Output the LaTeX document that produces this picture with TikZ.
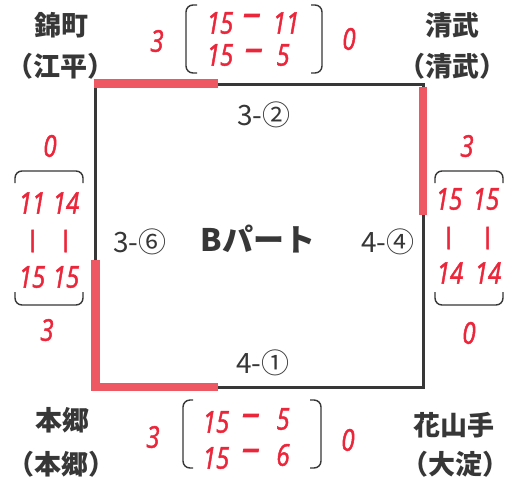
\documentclass[tikz,border=0pt]{standalone}
\usepackage{fontspec}
\usepackage{graphicx}
\newfontfamily\cjk{Noto Sans CJK JP}
\newfontfamily\hand{Open Sans}[FakeStretch=0.8,FakeBold=1.6]
\definecolor{ink}{RGB}{55,55,55}
\definecolor{hred}{RGB}{236,38,58}
\definecolor{bar}{RGB}{238,88,98}
\newcommand{\vdsh}{\scalebox{1.2}[0.75]{|}}
\newcommand{\hdsh}{\scalebox{1.55}[1.3]{–}}
\begin{document}
\begin{tikzpicture}[x=1pt,y=-1pt,
  team/.style={font=\cjk\bfseries\fontsize{27}{27}\selectfont, text=ink, inner sep=0pt},
  title/.style={font=\cjk\bfseries\fontsize{31}{31}\selectfont, text=ink, inner sep=0pt},
  match/.style={font=\cjk\fontsize{28}{28}\selectfont, text=ink, inner sep=0pt},
  score/.style={font=\hand\itshape\fontsize{30}{30}\selectfont, text=hred, inner sep=0pt},
  edgeline/.style={draw=ink, line width=3pt},
  winline/.style={draw=bar, line width=8.5pt, line join=miter},
  brk/.style={draw=ink, line width=1.4pt, rounded corners=7pt}]
\fill[white] (0,0) rectangle (513,483);
\useasboundingbox (0,0) rectangle (513,483);
% square
\coordinate (TL) at (95,84);
\coordinate (TR) at (423,84);
\coordinate (BR) at (423,387);
\coordinate (BL) at (95,387);
\draw[edgeline] (TL) -- (TR) -- (BR) -- (BL) -- cycle;
% winner bars
\coordinate (t1) at (93.5,83.5);
\coordinate (t2) at (218,83.5);
\coordinate (r1) at (423,86.5);
\coordinate (r2) at (423,215);
\coordinate (l1) at (95.5,260);
\coordinate (l2) at (95.5,387);
\coordinate (b2) at (218,387);
\draw[winline] (t1) -- (t2);
\draw[winline] (r1) -- (r2);
\draw[winline] (l1) -- (l2) -- (b2);
% match labels
\node[match] (m2) at (264,115) {3-②};
\node[match] (m6) at (140,242) {3-⑥};
\node[match] (m4) at (388,242) {4-④};
\node[match] (m1) at (263,363) {4-①};
\node[title] (tt) at (258,239) {Bパート};
% teams
\node[team] (n1a) at (61,25) {錦町};
\node[team] (n1b) at (60,66) {（江平）};
\node[team] (n2a) at (452,25) {清武};
\node[team] (n2b) at (452,66) {（清武）};
\node[team] (n3a) at (62,420) {本郷};
\node[team] (n3b) at (61,464) {（本郷）};
\node[team] (n4a) at (454,425) {花山手};
\node[team] (n4b) at (455,464) {（大淀）};
% top score block
\node[score] (ta) at (157,41) {3};
\draw[brk] (197,5) -- (186,5) -- (186,73) -- (197,73);
\node[score] (t11) at (220,23) {15};
\node[score] (t12) at (252,20) {\hdsh};
\node[score] (t13) at (286,23) {11};
\node[score] (t21) at (220,55) {15};
\node[score] (t22) at (254,55) {\hdsh};
\node[score] (t23) at (283,55) {5};
\draw[brk] (311,5) -- (322,5) -- (322,73) -- (311,73);
\node[score] (tb) at (349,39) {0};
% bottom score block
\node[score] (ba) at (153,437) {3};
\draw[brk] (193,400) -- (183,400) -- (183,468) -- (193,468);
\node[score] (b11) at (216,422) {15};
\node[score] (b12) at (251,420) {\hdsh};
\node[score] (b13) at (283,419) {5};
\node[score] (b21) at (216,458) {15};
\node[score] (b22) at (251,455) {\hdsh};
\node[score] (b23) at (283,455) {6};
\draw[brk] (310,400) -- (321,400) -- (321,468) -- (310,468);
\node[score] (bb) at (348,440) {0};
% left score block
\node[score] (la) at (50,146) {0};
\draw[brk] (15,183) -- (15,171) -- (83,171) -- (83,183);
\node[score] (l11) at (32,203) {11};
\node[score] (l12) at (66,203) {14};
\node[score] (l21) at (32,241) {\vdsh};
\node[score] (l22) at (65,241) {\vdsh};
\node[score] (l31) at (32,277) {15};
\node[score] (l32) at (66,277) {15};
\draw[brk] (15,292) -- (15,305) -- (83,305) -- (83,292);
\node[score] (lb) at (47,330) {3};
% right score block
\node[score] (ra) at (467,146) {3};
\draw[brk] (435,183) -- (435,171) -- (503,171) -- (503,183);
\node[score] (r11) at (449,199) {15};
\node[score] (r12) at (486,199) {15};
\node[score] (r21) at (448,238) {\vdsh};
\node[score] (r22) at (487,238) {\vdsh};
\node[score] (r31) at (450,273) {14};
\node[score] (r32) at (488,273) {14};
\draw[brk] (435,292) -- (435,305) -- (503,305) -- (503,292);
\node[score] (rb) at (469,333) {0};
\end{tikzpicture}
\end{document}
